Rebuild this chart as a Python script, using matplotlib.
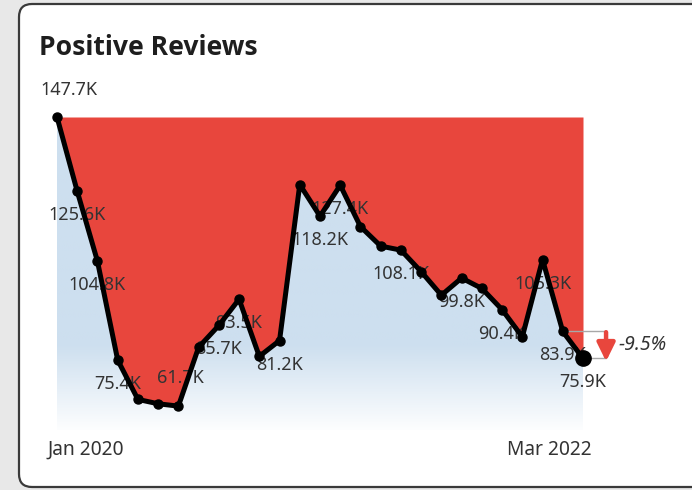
import matplotlib
matplotlib.use('Agg')
import matplotlib.pyplot as plt
import numpy as np
import pandas as pd
from matplotlib.patches import FancyBboxPatch
from matplotlib.transforms import IdentityTransform

# ---------------- data ----------------
months = pd.date_range('2020-01-01', periods=27, freq='MS').strftime('%b %Y').tolist()
reviews_k = [147.7, 125.6, 104.8, 75.4, 63.7, 62.4, 61.7, 79.2, 85.7, 93.5,
             76.5, 81.2, 127.6, 118.2, 127.4, 115.1, 109.3, 108.1, 101.7, 94.7,
             99.8, 96.7, 90.4, 82.3, 105.3, 83.9, 75.9]
labelled = [0, 1, 2, 3, 6, 8, 9, 11, 13, 14, 17, 20, 22, 24, 25, 26]
tick_labels = ['Jan 2020', 'Mar 2022']
title = 'Positive Reviews'

# ---------------- style ----------------
W, H = 692, 490
FONT = ['Noto Sans', 'DejaVu Sans']
plt.rcParams['font.family'] = FONT
RED = '#e8463d'
BLUE = np.array([0xcd, 0xdf, 0xef]) / 255.0
TXT = '#333333'

fig = plt.figure(figsize=(W / 100, H / 100), dpi=100)
fig.patch.set_facecolor('#e8e8e8')

def fx(px):
    return px / W

def fy(py):
    return 1 - py / H

# card
card = FancyBboxPatch((19, H - 487), 700, 483,
                      boxstyle='round,pad=0,rounding_size=13',
                      transform=IdentityTransform(), facecolor='white',
                      edgecolor='#3a3a3a', lw=1.6, zorder=0)
fig.add_artist(card)

# title, fitted to the reference width
ttl = fig.text(fx(39), fy(55), title, fontsize=18, fontweight='bold',
               family=['Open Sans', 'DejaVu Sans'],
               color='#1e1e1e', va='baseline', ha='left')
renderer = fig.canvas.get_renderer()
w = ttl.get_window_extent(renderer).width
ttl.set_fontsize(18 * 218.0 / w)

# axes
top_px, bot_px = 117, 430
ax = fig.add_axes([fx(57), fy(bot_px), fx(583) - fx(57), fy(top_px) - fy(bot_px)])
ax.axis('off')
ax.patch.set_alpha(0)

x = np.arange(len(reviews_k))
vals = np.array(reviews_k)
ymax = vals.max()
ymin = 54.6
ax.set_xlim(x[0], x[-1])
ax.set_ylim(ymin, ymax)

# red area above line
ax.fill_between(x, vals, ymax, color=RED, lw=0, zorder=1)

# blue gradient below line
poly = ax.fill_between(x, vals, ymin, facecolor='none', lw=0, zorder=1)
N = 300
py = top_px + (np.arange(N) + 0.5) / N * (bot_px - top_px)
t = np.clip((py - 345) / 88.0, 0, 1)[:, None]
grad = BLUE[None, :] * (1 - t) + np.ones(3)[None, :] * t
grad = np.repeat(grad[:, None, :], 2, axis=1)
im = ax.imshow(grad, extent=[x[0], x[-1], ymin, ymax], aspect='auto',
               origin='upper', zorder=1, interpolation='bilinear')
im.set_clip_path(poly.get_paths()[0], transform=ax.transData)

# line
ax.plot(x, vals, color='black', lw=3.6, marker='o', ms=6.5,
        solid_joinstyle='round', zorder=4, clip_on=False)
ax.plot(x[-1], vals[-1], 'o', color='black', ms=11, zorder=5, clip_on=False)

# data labels
P = 0.72
for i in labelled:
    if i == 0:
        off, ha = (-17, 27), 'left'
    elif i == 6:
        off, ha = (2, 28), 'center'
    else:
        off, ha = (0, -24), 'center'
    ax.annotate(f'{vals[i]:.1f}K', (x[i], vals[i]), xytext=(off[0] * P, off[1] * P),
                textcoords='offset points', ha=ha, va='center', fontsize=13,
                color=TXT, zorder=3, annotation_clip=False)

# x axis labels
ax.annotate(tick_labels[0], (x[0], 0), xycoords=('data', 'axes fraction'),
            xytext=(-10 * P, -20 * P), textcoords='offset points',
            ha='left', va='center', fontsize=13.8, color=TXT, annotation_clip=False)
ax.annotate(tick_labels[1], (x[-1], 0), xycoords=('data', 'axes fraction'),
            xytext=(9 * P, -20 * P), textcoords='offset points',
            ha='right', va='center', fontsize=13.8, color=TXT, annotation_clip=False)

# change indicator
pct = (vals[-1] - vals[-2]) / vals[-2] * 100
bx = x[-1] + 1.14
ax.plot([x[-2], bx, bx, x[-1]], [vals[-2], vals[-2], vals[-1], vals[-1]],
        color='#a8a8a8', lw=1.0, zorder=2, clip_on=False)
ax.annotate('', xy=(bx, vals[-1] - 0.9), xytext=(bx, vals[-2] - 0.2),
            arrowprops=dict(arrowstyle='-|>,head_width=0.27,head_length=0.55',
                            color=RED, lw=3.2,
                            mutation_scale=20, shrinkA=0, shrinkB=0),
            annotation_clip=False, zorder=3)
ax.annotate(f'{pct:.1f}%', (bx, (vals[-1] + vals[-2]) / 2), xytext=(12 * P, 0),
            textcoords='offset points', ha='left', va='center', fontsize=14,
            style='italic', color=TXT, annotation_clip=False)

fig.savefig('out.png', dpi=100, facecolor=fig.get_facecolor())
